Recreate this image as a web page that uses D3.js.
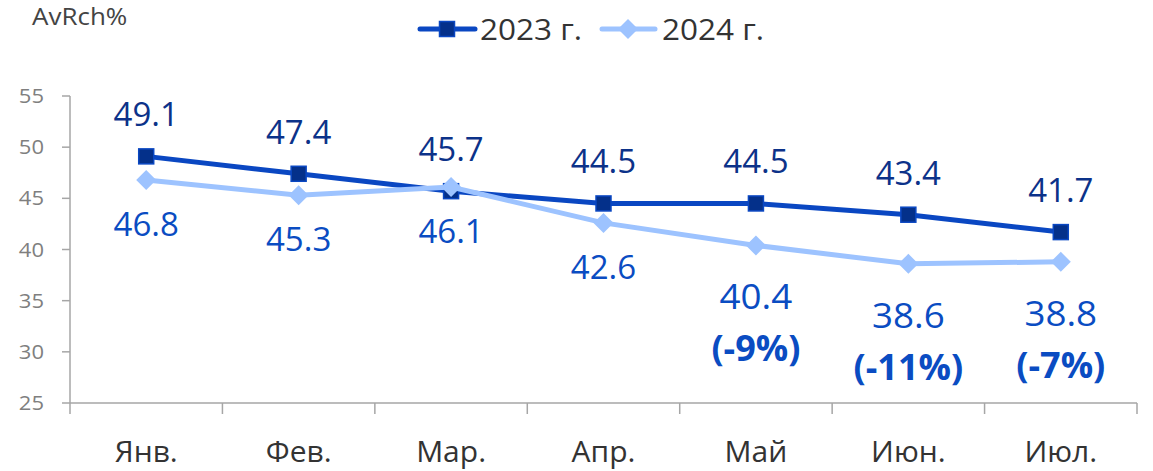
<!DOCTYPE html>
<html><head><meta charset="utf-8">
<script src="https://cdn.jsdelivr.net/npm/d3@7"></script>
<style>body{margin:0;background:#fff}text{font-family:"Open Sans",sans-serif}</style>
</head><body><svg id="c" width="1153" height="471"></svg>
<script>
const months = ["Янв.","Фев.","Мар.","Апр.","Май","Июн.","Июл."];
const values2023 = [49.1,47.4,45.7,44.5,44.5,43.4,41.7];
const values2024 = [46.8,45.3,46.1,42.6,40.4,38.6,38.8];
const change2024 = [null,null,null,null,"(-9%)","(-11%)","(-7%)"];
const yTicks = [25,30,35,40,45,50,55];
const seriesNames = ["2023 г.","2024 г."];

const svg = d3.select("#c");
const x = d3.scaleBand().domain(months).range([70,1137]);
const cx = d => x(d) + x.bandwidth()/2;
const y = d3.scaleLinear().domain([25,55]).range([403,96]);

const C23 = "#0a47c2", C23F = "#04308a", C23L = "#0c3289";
const C24 = "#9dc3ff", C24L = "#0a4cc2";

function txt(g, s, tx, ty, opts){
  return g.append("text").attr("transform",`translate(${tx},${ty}) scale(${opts.sx||1},1)`)
    .attr("text-anchor",opts.anchor||"middle").attr("font-size",opts.size)
    .attr("font-weight",opts.weight||400).attr("fill",opts.fill).text(s);
}

// axes
const axG = svg.append("g");
axG.append("line").attr("x1",70).attr("x2",70).attr("y1",y(55)).attr("y2",y(25)).attr("stroke","#a6a6a6").attr("stroke-width",1.5);
axG.selectAll(".yt").data(yTicks).join("line").attr("x1",62).attr("x2",70).attr("y1",d=>y(d)).attr("y2",d=>y(d)).attr("stroke","#a6a6a6").attr("stroke-width",1.5);
yTicks.forEach(t=>txt(axG,String(t),44,y(t)+7,{anchor:"end",size:20,fill:"#7f7f7f",sx:1.1}));
axG.append("line").attr("x1",70).attr("x2",1137).attr("y1",y(25)).attr("y2",y(25)).attr("stroke","#a6a6a6").attr("stroke-width",1.5);
const bounds = months.map(m=>x(m)).concat([x(months[months.length-1])+x.bandwidth()]);
axG.selectAll(".xt").data(bounds).join("line").attr("x1",d=>d).attr("x2",d=>d).attr("y1",y(25)).attr("y2",y(25)+11).attr("stroke","#a6a6a6").attr("stroke-width",1.5);
months.forEach(m=>txt(axG,m,cx(m),462,{size:30,fill:"#333333"}));

txt(svg,"AvRch%",32,25,{anchor:"start",size:23,fill:"#444444",sx:1.13});

// lines
const line = d3.line().x((d,i)=>cx(months[i])).y(d=>y(d));
svg.append("path").attr("d",line(values2023)).attr("fill","none").attr("stroke",C23).attr("stroke-width",5);
svg.selectAll(".m23").data(values2023).join("rect")
  .attr("x",(d,i)=>cx(months[i])-7.5).attr("y",d=>y(d)-7.5).attr("width",15).attr("height",15)
  .attr("fill",C23F).attr("stroke",C23).attr("stroke-width",1.5);
svg.append("path").attr("d",line(values2024)).attr("fill","none").attr("stroke",C24).attr("stroke-width",5);
svg.selectAll(".m24").data(values2024).join("path")
  .attr("d",(d,i)=>{const px=cx(months[i]),py=y(d),r=10;return `M${px},${py-r}L${px+r},${py}L${px},${py+r}L${px-r},${py}Z`;})
  .attr("fill",C24);

// labels
values2023.forEach((v,i)=>txt(svg,v.toFixed(1),cx(months[i]),y(v)-30,{size:33,fill:C23L}));
values2024.forEach((v,i)=>{
  if(change2024[i]){
    const b = y(v)+64;
    txt(svg,v.toFixed(1),cx(months[i]),b,{size:35,fill:C24L,sx:1.05});
    txt(svg,change2024[i],cx(months[i]),b+52,{size:35,fill:C24L,weight:700,sx:1.03});
  } else {
    txt(svg,v.toFixed(1),cx(months[i]),y(v)+56,{size:33,fill:C24L});
  }
});

// legend
const lg = svg.append("g");
lg.append("line").attr("x1",420).attr("x2",475).attr("y1",29).attr("y2",29).attr("stroke",C23).attr("stroke-width",5).attr("stroke-linecap","round");
lg.append("rect").attr("x",439.5).attr("y",21.5).attr("width",15).attr("height",15).attr("fill",C23F).attr("stroke",C23).attr("stroke-width",1.5);
txt(lg,seriesNames[0],480,40,{anchor:"start",size:30,fill:"#333333",sx:1.05});
lg.append("line").attr("x1",602).attr("x2",655).attr("y1",29).attr("y2",29).attr("stroke",C24).attr("stroke-width",5).attr("stroke-linecap","round");
lg.append("path").attr("d","M628,19L638,29L628,39L618,29Z").attr("fill",C24);
txt(lg,seriesNames[1],662,40,{anchor:"start",size:30,fill:"#333333",sx:1.05});
</script></body></html>
